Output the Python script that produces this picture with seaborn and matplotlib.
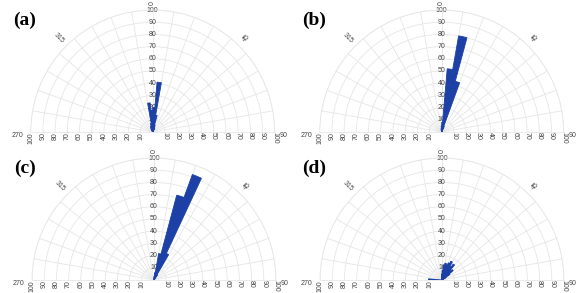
import numpy as np
import matplotlib
matplotlib.use("Agg")
import matplotlib.pyplot as plt
import seaborn as sns

# ---------------- data ----------------
panel_names = ["(a)", "(b)", "(c)", "(d)"]

a_angles = [-27.5, -22.5, -17.5, -12.5, -7.5, -2.5, 2.5, 7.5, 12.5, 17.5, 22.5, 27.5]
a_values = [3, 4, 5, 7, 24, 18, 20, 41, 14, 6, 4, 3]

b_angles = [-12.5, -7.5, -2.5, 2.5, 7.5, 12.5, 17.5, 22.5]
b_values = [2, 3, 5, 8, 52, 80, 43, 5]

c_angles = [2.5, 7.5, 12.5, 17.5, 22.5, 27.5, 32.5]
c_values = [3, 6, 22, 72, 92, 24, 5]

d_angles = [-87.5, -2.5, 2.5, 7.5, 12.5, 17.5, 22.5, 27.5, 32.5, 37.5, 42.5, 47.5, 52.5, 57.5]
d_values = [11, 5, 8, 12, 14, 13, 15, 17, 13, 16, 11, 12, 8, 4]

radial_ticks = [10, 20, 30, 40, 50, 60, 70, 80, 90, 100]
angle_labels = {270: "270", 315: "315", 0: "0", 45: "45", 90: "90"}
bin_width_deg = 5

# ---------------------------------------------------------------
sns.set_style("white")
plt.rcParams["font.family"] = ["Liberation Sans", "DejaVu Sans"]

W, H = 580, 293
R = 122.0
centers = [(152.7, 132.0), (441.7, 132.0), (154.0, 280.0), (442.0, 280.0)]
panels = [(a_angles, a_values), (b_angles, b_values),
          (c_angles, c_values), (d_angles, d_values)]

bar_color = "#1c40a6"
grid_color = "#e6e6e6"
label_color = "#444444"
fs = 5

fig = plt.figure(figsize=(W / 100, H / 100), dpi=100)

for (cx, cy), (angs, vals), name in zip(centers, panels, panel_names):
    # square box; the half disc is drawn vertically centred in it
    rect = [(cx - R) / W, (H - (cy + R / 2)) / H, 2 * R / W, 2 * R / H]
    ax = fig.add_axes(rect, projection="polar")
    ax.set_theta_zero_location("N")
    ax.set_theta_direction(-1)
    ax.set_thetamin(-90)
    ax.set_thetamax(90)
    ax.set_rlim(0, 100)
    ax.set_facecolor("none")
    ax.patch.set_alpha(0)

    ax.set_rticks(radial_ticks)
    ax.set_yticklabels([])
    ax.set_thetagrids(np.arange(-90, 91, 10), labels=[])
    ax.grid(True, color=grid_color, linewidth=0.6)
    for sp in ax.spines.values():
        sp.set_color(grid_color)
        sp.set_linewidth(0.6)
    ax.tick_params(length=0)

    ax.bar(np.deg2rad(angs), vals, width=np.deg2rad(bin_width_deg),
           color=bar_color, edgecolor=bar_color, linewidth=0.6, zorder=3,
           align="center")

    # radial labels on the 0 direction line
    for r in radial_ticks:
        ax.text(0, r, str(r), ha="center", va="center", fontsize=fs,
                color=label_color, zorder=2, clip_on=False)
    # radial labels along the baseline (rotated)
    for r in radial_ticks:
        ax.text(np.deg2rad(-90), r, str(r), ha="center", va="top",
                rotation=90, fontsize=fs, color=label_color,
                clip_on=False)
        ax.text(np.deg2rad(90), r, str(r), ha="center", va="top",
                rotation=-90, fontsize=fs, color=label_color,
                clip_on=False)
    # angle labels
    ax.text(np.deg2rad(-90), 106, angle_labels[270], ha="right", va="top",
            fontsize=fs, color=label_color, clip_on=False)
    ax.text(np.deg2rad(90), 104, angle_labels[90], ha="left", va="top",
            fontsize=fs, color=label_color, clip_on=False)
    ax.text(0, 106, angle_labels[0], ha="center", va="center", rotation=90,
            fontsize=fs, color=label_color, clip_on=False)
    ax.text(np.deg2rad(-45), 109, angle_labels[315], ha="center", va="center",
            rotation=-45, fontsize=fs, color=label_color, clip_on=False)
    ax.text(np.deg2rad(45), 109, angle_labels[45], ha="center", va="center",
            rotation=45, fontsize=fs, color=label_color, clip_on=False)

    # panel label
    fig.text((cx - 140) / W, 1 - (cy - 112) / H, name,
             fontsize=14, fontweight="bold", family="Liberation Serif",
             ha="left", va="center", color="black")

fig.savefig("out.png", dpi=100)
